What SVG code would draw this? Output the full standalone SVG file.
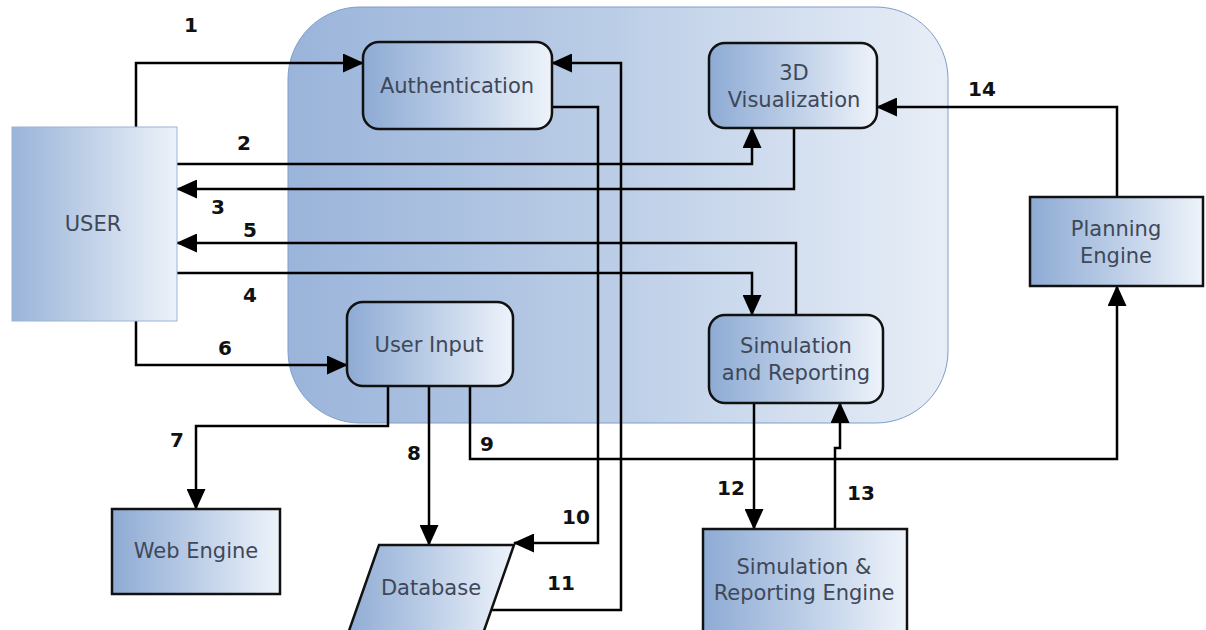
<svg xmlns="http://www.w3.org/2000/svg" width="1206" height="630" viewBox="0 0 1206 630">
<defs>
<linearGradient id="gNode" x1="0" y1="0" x2="1" y2="0">
<stop offset="0" stop-color="#8eabd4"/>
<stop offset="0.5" stop-color="#bccee7"/>
<stop offset="1" stop-color="#eef3fa"/>
</linearGradient>
<linearGradient id="gUser" x1="0" y1="0" x2="1" y2="0">
<stop offset="0" stop-color="#9ab4d9"/>
<stop offset="1" stop-color="#edf2f9"/>
</linearGradient>
<linearGradient id="gCont" x1="0" y1="0" x2="1" y2="0">
<stop offset="0" stop-color="#9ab4da"/>
<stop offset="0.5" stop-color="#bccee7"/>
<stop offset="1" stop-color="#e8eef7"/>
</linearGradient>
<marker id="arr" markerUnits="userSpaceOnUse" markerWidth="21" markerHeight="19" viewBox="0 0 21 19" refX="20" refY="9.5" orient="auto">
<path d="M0,0 L21,9.5 L0,19 z" fill="#000"/>
</marker>
</defs>
<style>
.node{fill:url(#gNode);stroke:#111;stroke-width:2.5}
.txt{font-family:"DejaVu Sans","Verdana",sans-serif;font-size:21px;fill:#3e4858;text-anchor:middle}
.num{font-family:"DejaVu Sans","Verdana",sans-serif;font-size:20px;font-weight:bold;fill:#111;text-anchor:middle}
.ln{fill:none;stroke:#000;stroke-width:2.5}
.arrow{marker-end:url(#arr)}
</style>
<rect width="1206" height="630" fill="#fff"/>
<g id="container">
<rect x="288" y="7" width="660" height="416" rx="72" ry="72" fill="url(#gCont)" stroke="#7f9dcb" stroke-width="1"/>
</g>
<g id="connectors">
<path class="ln arrow" d="M136,127 V63 H363"/>
<path class="ln arrow" d="M177,164 H752 V128"/>
<path class="ln arrow" d="M794,128 V189 H177"/>
<path class="ln arrow" d="M177,273 H752 V315"/>
<path class="ln arrow" d="M796,315 V243 H177"/>
<path class="ln arrow" d="M136,321 V365 H347"/>
<path class="ln arrow" d="M388,386 V426 H196 V509"/>
<path class="ln arrow" d="M429,386 V545"/>
<path class="ln arrow" d="M470,386 V459 H1117 V286"/>
<path class="ln arrow" d="M552,107 H598 V543 H514"/>
<path class="ln arrow" d="M491,610 H621 V63 H552"/>
<path class="ln arrow" d="M754,403 V529"/>
<path class="ln arrow" d="M835,529 V448 H840 V403"/>
<path class="ln arrow" d="M1117,197 V107 H877"/>
</g>
<g id="user">
<rect x="12" y="127" width="165" height="194" fill="url(#gUser)" stroke="#9bb4d6" stroke-width="1"/>
<text class="txt" x="93" y="231">USER</text>
</g>
<g id="authentication">
<rect class="node" x="363" y="42" width="189" height="87" rx="16"/>
<text class="txt" x="457" y="93">Authentication</text>
</g>
<g id="visualization">
<rect class="node" x="709" y="43" width="168" height="85" rx="16"/>
<text class="txt" x="794" y="80">3D</text>
<text class="txt" x="794" y="107">Visualization</text>
</g>
<g id="userinput">
<rect class="node" x="347" y="302" width="166" height="84" rx="16"/>
<text class="txt" x="429" y="352">User Input</text>
</g>
<g id="simulation">
<rect class="node" x="709" y="315" width="174" height="88" rx="16"/>
<text class="txt" x="796" y="353">Simulation</text>
<text class="txt" x="796" y="380">and Reporting</text>
</g>
<g id="planning">
<rect class="node" x="1030" y="197" width="173" height="89"/>
<text class="txt" x="1116" y="236">Planning</text>
<text class="txt" x="1116" y="263">Engine</text>
</g>
<g id="webengine">
<rect class="node" x="112" y="509" width="168" height="85"/>
<text class="txt" x="196" y="558">Web Engine</text>
</g>
<g id="database">
<polygon class="node" points="379,545 514,545 479,645 344,645"/>
<text class="txt" x="431" y="595">Database</text>
</g>
<g id="simengine">
<rect class="node" x="703" y="529" width="204" height="110"/>
<text class="txt" x="804" y="574">Simulation &amp;</text>
<text class="txt" x="804" y="600">Reporting Engine</text>
</g>
<g id="labels">
<text class="num" x="191" y="32">1</text>
<text class="num" x="244" y="150">2</text>
<text class="num" x="218" y="214">3</text>
<text class="num" x="250" y="237">5</text>
<text class="num" x="250" y="302">4</text>
<text class="num" x="225" y="355">6</text>
<text class="num" x="177" y="447">7</text>
<text class="num" x="414" y="460">8</text>
<text class="num" x="487" y="451">9</text>
<text class="num" x="576" y="524">10</text>
<text class="num" x="561" y="590">11</text>
<text class="num" x="731" y="495">12</text>
<text class="num" x="861" y="500">13</text>
<text class="num" x="982" y="96">14</text>
</g>
</svg>
